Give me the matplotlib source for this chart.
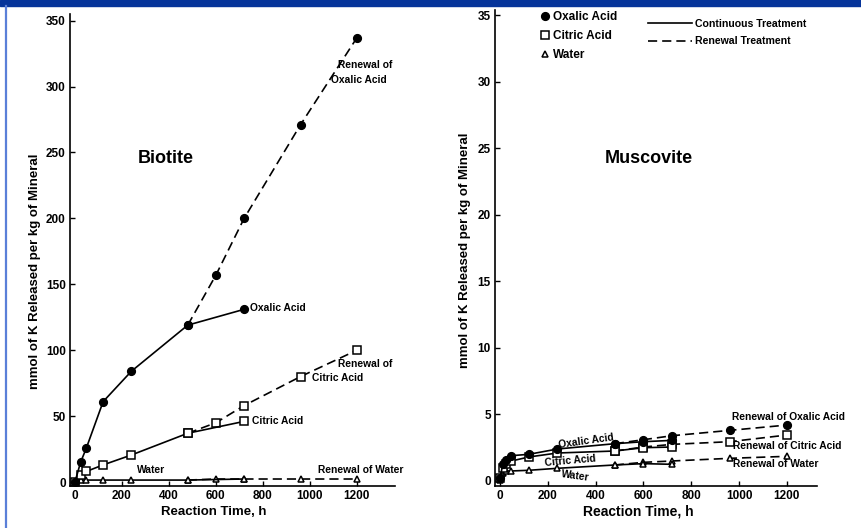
import matplotlib
matplotlib.use('Agg')
import matplotlib.pyplot as plt
from matplotlib.lines import Line2D
from matplotlib.patches import Rectangle

plt.rcParams['font.family'] = ['Liberation Sans', 'DejaVu Sans']
plt.rcParams['font.weight'] = 'bold'

# Biotite - continuous treatment
bio_t = [0, 24, 48, 120, 240, 480, 720]
bio_oxalic = [0, 15, 25.5, 61, 84, 119, 131]
bio_citric = [0, 5, 8, 13, 20.5, 37, 46]
bio_water = [0, 1.5, 1.5, 1.5, 1.5, 1.5, 2.3]
# Biotite - renewal treatment
bio_rt = [480, 600, 720, 960, 1200]
bio_oxalic_r = [119, 157, 200, 271, 337]
bio_citric_r = [37, 45, 58, 80, 100]
bio_water_r = [1.5, 2.3, 2.3, 2.3, 2.3]

# Muscovite - continuous treatment
mus_t = [0, 12, 24, 48, 120, 240, 480, 600, 720]
mus_oxalic = [0.2, 1.3, 1.6, 1.9, 2.0, 2.4, 2.8, 2.95, 3.05]
mus_citric = [0.2, 1.0, 1.3, 1.5, 1.8, 2.1, 2.25, 2.5, 2.55]
mus_water = [0.1, 0.6, 0.75, 0.75, 0.8, 0.95, 1.2, 1.3, 1.25]
# Muscovite - renewal treatment
mus_rt = [480, 600, 720, 960, 1200]
mus_oxalic_r = [2.8, 3.1, 3.4, 3.8, 4.2]
mus_citric_r = [2.25, 2.55, 2.75, 2.95, 3.45]
mus_water_r = [1.2, 1.4, 1.5, 1.7, 1.85]

W, H = 861, 528
fig = plt.figure(figsize=(W / 100, H / 100), dpi=100)

# header band and side rule
fig.patches.append(Rectangle((0, 1 - 6 / H), 1, 6 / H, transform=fig.transFigure,
                             color='#06349a', zorder=0))
fig.add_artist(Line2D([6 / W, 6 / W], [0, 1 - 6 / H], transform=fig.transFigure,
                      color='#5a7fd8', lw=1.6))

ax1 = fig.add_axes([70 / W, 1 - 486 / H, 325 / W, 472 / H])
ax2 = fig.add_axes([495 / W, 1 - 486 / H, 322 / W, 476 / H])

dash = (0, (5.5, 3))
styles = {
    'oxalic': dict(marker='o', mfc='black', ms=5.5),
    'citric': dict(marker='s', mfc='white', ms=6),
    'water': dict(marker='^', mfc='white', ms=5),
}


def draw(ax, t, rt, series):
    for key, cont, ren in series:
        st = styles[key]
        ax.plot(rt, ren, color='black', lw=1.2, ls=dash, mec='black', mew=1.1, **st)
        ax.plot(t, cont, color='black', lw=1.2, mec='black', mew=1.1, **st)


draw(ax1, bio_t, bio_rt, [('water', bio_water, bio_water_r),
                          ('citric', bio_citric, bio_citric_r),
                          ('oxalic', bio_oxalic, bio_oxalic_r)])
draw(ax2, mus_t, mus_rt, [('water', mus_water, mus_water_r),
                          ('citric', mus_citric, mus_citric_r),
                          ('oxalic', mus_oxalic, mus_oxalic_r)])

ax1.set_xlim(-21, 1362)
ax1.set_ylim(-3, 355)
ax1.set_yticks(range(0, 351, 50))
ax2.set_xlim(-21, 1326)
ax2.set_ylim(-0.38, 35.4)
ax2.set_yticks(range(0, 36, 5))

for ax in (ax1, ax2):
    ax.set_xticks(range(0, 1201, 200))
    ax.spines['top'].set_visible(False)
    ax.spines['right'].set_visible(False)
    ax.spines['left'].set_linewidth(1.2)
    ax.spines['bottom'].set_linewidth(1.2)
    ax.tick_params(direction='in', length=3.5, width=1, labelsize=8.5, pad=3)
    ax.patch.set_alpha(0)

ylabel = 'mmol of K Released per kg of Mineral'
fig.text(35 / W, 1 - 271 / H, ylabel, rotation=90, ha='center', va='center', fontsize=9.5)
fig.text(465 / W, 1 - 250 / H, ylabel, rotation=90, ha='center', va='center', fontsize=9.5)
fig.text(214 / W, 1 - 512 / H, 'Reaction Time, h', ha='center', va='center', fontsize=9.5)
fig.text(638 / W, 1 - 512 / H, 'Reaction Time, h', ha='center', va='center', fontsize=10)

fig.text(166 / W, 1 - 158 / H, 'Biotite', ha='center', va='center', fontsize=13)
fig.text(649 / W, 1 - 158 / H, 'Muscovite', ha='center', va='center', fontsize=13)

# curve labels, biotite
fs = 7.4
ax1.text(1119, 316, 'Renewal of', fontsize=fs, va='center')
ax1.text(1090, 305, 'Oxalic Acid', fontsize=fs, va='center')
ax1.text(745, 132, 'Oxalic Acid', fontsize=fs, va='center')
ax1.text(1119, 89.4, 'Renewal of', fontsize=fs, va='center')
ax1.text(1009, 78.8, 'Citric Acid', fontsize=fs, va='center')
ax1.text(753, 46, 'Citric Acid', fontsize=fs, va='center')
ax1.text(264, 9, 'Water', fontsize=fs, va='center')
ax1.text(1034, 9, 'Renewal of Water', fontsize=fs, va='center')

# curve labels, muscovite
ax2.text(971, 4.8, 'Renewal of Oxalic Acid', fontsize=fs, va='center')
ax2.text(975, 2.63, 'Renewal of Citric Acid', fontsize=fs, va='center')
ax2.text(975, 1.28, 'Renewal of Water', fontsize=fs, va='center')
ax2.text(360, 3.0, 'Oxalic Acid', fontsize=fs, ha='center', va='center', rotation=8)
ax2.text(293, 1.5, 'Citric Acid', fontsize=fs, ha='center', va='center', rotation=5)
ax2.text(314, 0.38, 'Water', fontsize=fs, ha='center', va='center', rotation=-8)

# legends
mk = [Line2D([], [], ls='none', color='black', mec='black', mew=1.1, **styles[k])
      for k in ('oxalic', 'citric', 'water')]
leg1 = fig.legend(mk, ['Oxalic Acid', 'Citric Acid', 'Water'], loc='upper left',
                  bbox_to_anchor=(539 / W, 1 - 11 / H), frameon=False, fontsize=8.5,
                  handlelength=1, handletextpad=0.2, labelspacing=0.61,
                  borderpad=0, borderaxespad=0)
ln = [Line2D([], [], color='black', lw=1.2), Line2D([], [], color='black', lw=1.2, ls=dash)]
leg2 = fig.legend(ln, ['Continuous Treatment', 'Renewal Treatment'], loc='upper left',
                  bbox_to_anchor=(648 / W, 1 - 19 / H), frameon=False, fontsize=7.6,
                  handlelength=4.15, handletextpad=0.28, labelspacing=0.7,
                  borderpad=0, borderaxespad=0)

fig.savefig('out.png', dpi=100)
